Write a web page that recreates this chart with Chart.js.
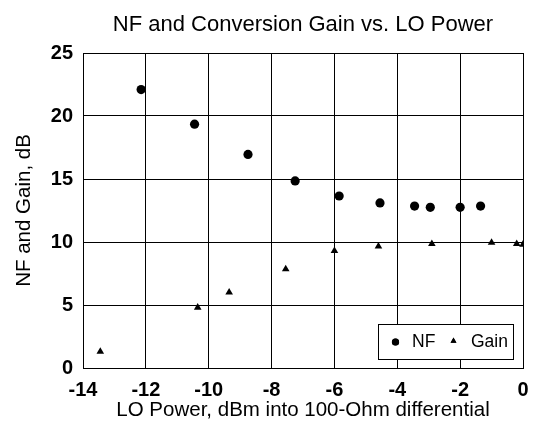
<!DOCTYPE html>
<html>
<head>
<meta charset="utf-8">
<script src="https://cdn.jsdelivr.net/npm/chart.js@4/dist/chart.umd.min.js"></script>
<style>
  html, body { margin: 0; padding: 0; background: #fff; }
  #chart { display: block; }
</style>
</head>
<body>
<canvas id="chart" width="542" height="433"></canvas>
<script>
const chartTitle = "NF and Conversion Gain vs. LO Power";
const xTitle = "LO Power, dBm into 100-Ohm differential";
const yTitle = "NF and Gain, dB";

// NF points (LO power, dB)
const nfLabel = "NF";
const nfX = [-12.15, -10.45, -8.75, -7.25, -5.85, -4.55, -3.45, -2.95, -2.0, -1.35];
const nfY = [22.1, 19.35, 16.95, 14.85, 13.65, 13.1, 12.85, 12.75, 12.75, 12.85];

// conversion gain points
const gainLabel = "Gain";
const gainX = [-13.45, -10.35, -9.35, -7.55, -6.0, -4.6, -2.9, -1.0, -0.2, 0];
const gainY = [1.3, 4.8, 6.0, 7.85, 9.3, 9.65, 9.85, 9.95, 9.85, 9.8];

const xMin = -14, xMax = 0, xStep = 2;
const yMin = 0, yMax = 25, yStep = 5;

const FONT = "'Liberation Sans', Arial, Helvetica, sans-serif";

function toPoints(xs, ys) {
  return xs.map((x, i) => ({ x, y: ys[i] }));
}

// legend box drawn inside the plot, lower right
const insideLegend = {
  id: "insideLegend",
  afterDatasetsDraw(chart) {
    const { ctx, chartArea } = chart;
    const w = 135, h = 35;
    const x0 = chartArea.right - 10 - w;
    const y0 = chartArea.bottom - 9 - h;
    ctx.save();
    ctx.fillStyle = "#fff";
    ctx.fillRect(x0, y0, w, h);
    ctx.strokeStyle = "#000";
    ctx.lineWidth = 1;
    ctx.strokeRect(Math.round(x0) + 0.5, Math.round(y0) + 0.5, w, h);
    ctx.font = "17.5px " + FONT;
    ctx.textBaseline = "middle";
    ctx.fillStyle = "#000";
    const cy = y0 + h / 2 + 0.5;
    const ds = chart.data.datasets;
    // NF entry
    Chart.helpers.drawPoint(ctx, { pointStyle: ds[0].pointStyle, radius: 3.6, borderWidth: 0 }, x0 + 17.5, cy);
    ctx.fillStyle = "#000";
    ctx.fill();
    ctx.fillText(ds[0].label, x0 + 34, cy);
    // Gain entry
    ctx.beginPath();
    Chart.helpers.drawPoint(ctx, { pointStyle: ds[1].pointStyle, radius: 3.4, borderWidth: 0 }, x0 + 75.5, cy - 1);
    ctx.fill();
    ctx.fillText(ds[1].label, x0 + 93, cy);
    ctx.restore();
  }
};

new Chart(document.getElementById("chart"), {
  type: "scatter",
  data: {
    datasets: [
      {
        label: nfLabel,
        data: toPoints(nfX, nfY),
        pointStyle: "circle",
        pointRadius: 4.6,
        pointBackgroundColor: "#000",
        pointBorderColor: "#000",
        pointBorderWidth: 0,
        clip: 0
      },
      {
        label: gainLabel,
        data: toPoints(gainX, gainY),
        pointStyle: "triangle",
        pointRadius: 4.4,
        pointBackgroundColor: "#000",
        pointBorderColor: "#000",
        pointBorderWidth: 0,
        clip: 0
      }
    ]
  },
  options: {
    responsive: false,
    animation: false,
    events: [],
    layout: { padding: { left: 0, right: 19, top: 0, bottom: 0 } },
    plugins: {
      legend: { display: false },
      tooltip: { enabled: false },
      title: {
        display: true,
        text: chartTitle,
        fullSize: false,
        color: "#000",
        font: { family: FONT, size: 22, weight: "normal" },
        padding: { top: 12, bottom: 14.6 }
      }
    },
    scales: {
      x: {
        type: "linear",
        min: xMin,
        max: xMax,
        afterFit(scale) { scale.height = 65; },
        ticks: {
          stepSize: xStep,
          color: "#000",
          padding: 10,
          font: { family: FONT, size: 20, weight: "bold" }
        },
        grid: { color: "#000", lineWidth: 1, drawTicks: false },
        border: { color: "#000", width: 1 },
        title: {
          display: true,
          text: xTitle,
          color: "#000",
          font: { family: FONT, size: 20.5, weight: "normal" },
          padding: { top: 0, bottom: 10 }
        }
      },
      y: {
        type: "linear",
        min: yMin,
        max: yMax,
        afterFit(scale) { scale.width = 83; },
        ticks: {
          stepSize: yStep,
          color: "#000",
          padding: 10,
          font: { family: FONT, size: 20, weight: "bold" }
        },
        grid: { color: "#000", lineWidth: 1, drawTicks: false },
        border: { color: "#000", width: 1 },
        title: {
          display: true,
          text: yTitle,
          color: "#000",
          font: { family: FONT, size: 20.5, weight: "normal" },
          padding: { top: 12, bottom: 0 }
        }
      }
    }
  },
  plugins: [insideLegend]
});
</script>
</body>
</html>
